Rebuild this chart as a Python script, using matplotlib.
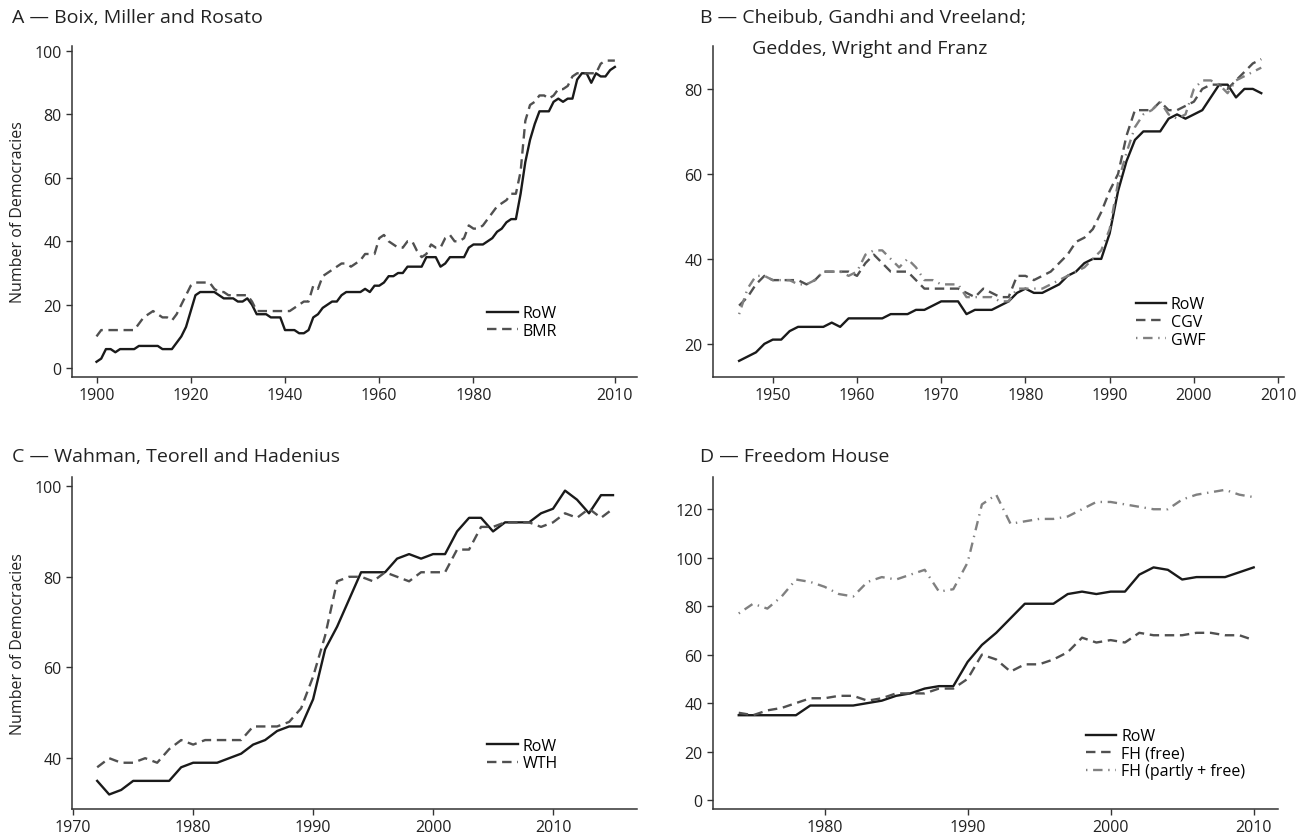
import matplotlib
matplotlib.use('Agg')
import matplotlib.pyplot as plt
import numpy as np

plt.rcParams['font.family'] = ['Open Sans', 'DejaVu Sans']

# Panel A - Boix, Miller and Rosato (1900-2010)
years_a = np.arange(1900, 2011)
row_a = [2, 3, 6, 6, 5, 6, 6, 6, 6, 7,
         7, 7, 7, 7, 6, 6, 6, 8, 10, 13,
         18, 23, 24, 24, 24, 24, 23, 22, 22, 22,
         21, 21, 22, 20, 17, 17, 17, 16, 16, 16,
         12, 12, 12, 11, 11, 12, 16, 17, 19, 20,
         21, 21, 23, 24, 24, 24, 24, 25, 24, 26,
         26, 27, 29, 29, 30, 30, 32, 32, 32, 32,
         35, 35, 35, 32, 33, 35, 35, 35, 35, 38,
         39, 39, 39, 40, 41, 43, 44, 46, 47, 47,
         55, 65, 72, 77, 81, 81, 81, 84, 85, 84,
         85, 85, 91, 93, 93, 90, 93, 92, 92, 94,
         95]
bmr = [10, 12, 12, 12, 12, 12, 12, 12, 12, 14,
       16, 17, 18, 17, 16, 16, 15, 17, 20, 23,
       26, 27, 27, 27, 27, 25, 24, 24, 23, 23,
       23, 23, 23, 21, 18, 18, 18, 18, 18, 18,
       18, 18, 19, 20, 21, 21, 26, 25, 29, 30,
       31, 32, 33, 33, 32, 33, 34, 36, 36, 36,
       41, 42, 40, 39, 38, 38, 40, 40, 37, 35,
       36, 39, 38, 38, 41, 42, 40, 40, 41, 45,
       44, 44, 45, 47, 49, 51, 52, 53, 55, 55,
       62, 78, 83, 84, 86, 86, 85, 86, 88, 88,
       89, 92, 93, 93, 93, 93, 93, 96, 97, 97,
       97]

# Panel B - CGV and GWF (1946-2008)
years_b = np.arange(1946, 2009)
row_b = [16, 17, 18, 20,
         21, 21, 23, 24, 24, 24, 24, 25, 24, 26,
         26, 26, 26, 26, 27, 27, 27, 28, 28, 29,
         30, 30, 30, 27, 28, 28, 28, 29, 30, 32,
         33, 32, 32, 33, 34, 36, 37, 39, 40, 40,
         46, 56, 63, 68, 70, 70, 70, 73, 74, 73,
         74, 75, 78, 81, 81, 78, 80, 80, 79]
cgv = [29, 31, 34, 36,
       35, 35, 35, 35, 34, 35, 37, 37, 37, 37,
       36, 39, 41, 39, 37, 37, 37, 35, 33, 33,
       33, 33, 33, 32, 31, 33, 32, 31, 31, 36,
       36, 35, 36, 37, 39, 41, 44, 45, 47, 51,
       56, 60, 69, 75, 75, 75, 77, 75, 75, 76,
       77, 80, 81, 81, 80, 82, 84, 86, 87]
gwf = [27, 33, 36, 36,
       35, 35, 35, 34, 34, 35, 37, 37, 37, 36,
       37, 41, 42, 42, 40, 38, 40, 38, 35, 35,
       34, 34, 34, 31, 31, 31, 31, 30, 30, 33,
       33, 33, 33, 34, 35, 36, 37, 38, 40, 42,
       47, 58, 65, 71, 74, 75, 77, 74, 73, 74,
       80, 82, 82, 81, 79, 82, 83, 84, 85]

# Panel C - Wahman, Teorell and Hadenius (1972-2015)
years_c = np.arange(1972, 2016)
row_c = [35, 32, 33, 35, 35, 35, 35, 38,
         39, 39, 39, 40, 41, 43, 44, 46, 47, 47,
         53, 64, 69, 75, 81, 81, 81, 84, 85, 84,
         85, 85, 90, 93, 93, 90, 92, 92, 92, 94,
         95, 99, 97, 94, 98, 98]
wth = [38, 40, 39, 39, 40, 39, 42, 44,
       43, 44, 44, 44, 44, 47, 47, 47, 48, 51,
       58, 67, 79, 80, 80, 79, 81, 80, 79, 81,
       81, 81, 86, 86, 91, 91, 92, 92, 92, 91,
       92, 94, 93, 95, 93, 95]

# Panel D - Freedom House (1974-2010)
years_d = np.arange(1974, 2011)
row_d = [35, 35, 35, 35, 35, 39,
         39, 39, 39, 40, 41, 43, 44, 46, 47, 47,
         57, 64, 69, 75, 81, 81, 81, 85, 86, 85,
         86, 86, 93, 96, 95, 91, 92, 92, 92, 94,
         96]
fh_free = [36, 35, 37, 38, 40, 42,
           42, 43, 43, 41, 42, 44, 44, 44, 46, 46,
           50, 60, 58, 53, 56, 56, 58, 61, 67, 65,
           66, 65, 69, 68, 68, 68, 69, 69, 68, 68,
           66]
fh_partly = [77, 81, 79, 84, 91, 90,
             88, 85, 84, 90, 92, 91, 93, 95, 86, 87,
             98, 122, 126, 114, 115, 116, 116, 117, 120, 123,
             123, 122, 121, 120, 120, 124, 126, 127, 128, 126,
             125]

W, H = 1309, 837
fig = plt.figure(figsize=(W / 100, H / 100), dpi=100)


def add_ax(x0, y0, x1, y1):
    # pixel box (left, top, right, bottom) -> figure fraction
    return fig.add_axes([x0 / W, 1 - y1 / H, (x1 - x0) / W, (y1 - y0) / H])


SPINE = '#333333'
BLACK = '#1a1a1a'
DARK = '#505050'
LIGHT = '#808080'
FS = 11.5


def style(ax):
    for s in ['top', 'right']:
        ax.spines[s].set_visible(False)
    for s in ['left', 'bottom']:
        ax.spines[s].set_color(SPINE)
        ax.spines[s].set_linewidth(1.1)
    ax.tick_params(direction='out', length=4.5, width=1.0, color=SPINE,
                   labelsize=FS, labelcolor='#222222', pad=3)


def legend(ax, x0, yc):
    ax.legend(loc='center left', bbox_to_anchor=(x0, yc), frameon=False,
              fontsize=FS, handlelength=1.9, handletextpad=0.3,
              labelspacing=0.1, borderpad=0, borderaxespad=0)


dash = (4, 2.4)
dashdot = (0.6, 2.4, 4, 2.4)

# A
ax = add_ax(72, 47, 637, 378)
ax.plot(years_a, row_a, color=BLACK, lw=1.7, label='RoW')
ax.plot(years_a, bmr, color=DARK, lw=1.7, dashes=dash, label='BMR')
ax.set_xlim(1894.8, 2014.7)
ax.set_ylim(-2.8, 101.6)
ax.set_xticks([1900, 1920, 1940, 1960, 1980, 2010])
ax.set_yticks([0, 20, 40, 60, 80, 100])
style(ax)
legend(ax, 0.735, 0.166)

# B
ax = add_ax(713, 47, 1284, 378)
ax.plot(years_b, row_b, color=BLACK, lw=1.7, label='RoW')
ax.plot(years_b, cgv, color=DARK, lw=1.7, dashes=dash, label='CGV')
ax.plot(years_b, gwf, color=LIGHT, lw=1.7, dashes=dashdot, label='GWF')
ax.set_xlim(1942.9, 2010.7)
ax.set_ylim(12.2, 90.1)
ax.set_xticks([1950, 1960, 1970, 1980, 1990, 2000, 2010])
ax.set_yticks([20, 40, 60, 80])
style(ax)
legend(ax, 0.74, 0.166)

# C
ax = add_ax(72, 478, 637, 810)
ax.plot(years_c, row_c, color=BLACK, lw=1.7, label='RoW')
ax.plot(years_c, wth, color=DARK, lw=1.7, dashes=dash, label='WTH')
ax.set_xlim(1969.9, 2017.0)
ax.set_ylim(28.8, 102.0)
ax.set_xticks([1970, 1980, 1990, 2000, 2010])
ax.set_yticks([40, 60, 80, 100])
style(ax)
legend(ax, 0.735, 0.164)

# D
ax = add_ax(713, 478, 1278, 810)
ax.plot(years_d, row_d, color=BLACK, lw=1.7, label='RoW')
ax.plot(years_d, fh_free, color=DARK, lw=1.7, dashes=dash, label='FH (free)')
ax.plot(years_d, fh_partly, color=LIGHT, lw=1.7, dashes=dashdot,
        label='FH (partly + free)')
ax.set_xlim(1972.2, 2011.7)
ax.set_ylim(-3.7, 133.3)
ax.set_xticks([1980, 1990, 2000, 2010])
ax.set_yticks([0, 20, 40, 60, 80, 100, 120])
style(ax)
legend(ax, 0.66, 0.166)

# titles
TFS = 14
tc = '#222222'
fig.text(12 / W, 1 - 23 / H, 'A \u2014 Boix, Miller and Rosato', fontsize=TFS, color=tc, va='baseline')
fig.text(700 / W, 1 - 23 / H, 'B \u2014 Cheibub, Gandhi and Vreeland;', fontsize=TFS, color=tc, va='baseline')
fig.text(752 / W, 1 - 54 / H, 'Geddes, Wright and Franz', fontsize=TFS, color=tc, va='baseline')
fig.text(12 / W, 1 - 462 / H, 'C \u2014 Wahman, Teorell and Hadenius', fontsize=TFS, color=tc, va='baseline')
fig.text(700 / W, 1 - 462 / H, 'D \u2014 Freedom House', fontsize=TFS, color=tc, va='baseline')

# y labels
fig.text(18 / W, 1 - 212 / H, 'Number of Democracies', fontsize=FS, color=tc,
         rotation=90, ha='center', va='center')
fig.text(18 / W, 1 - 644 / H, 'Number of Democracies', fontsize=FS, color=tc,
         rotation=90, ha='center', va='center')

fig.savefig('out.png', dpi=100)
plt.close(fig)
